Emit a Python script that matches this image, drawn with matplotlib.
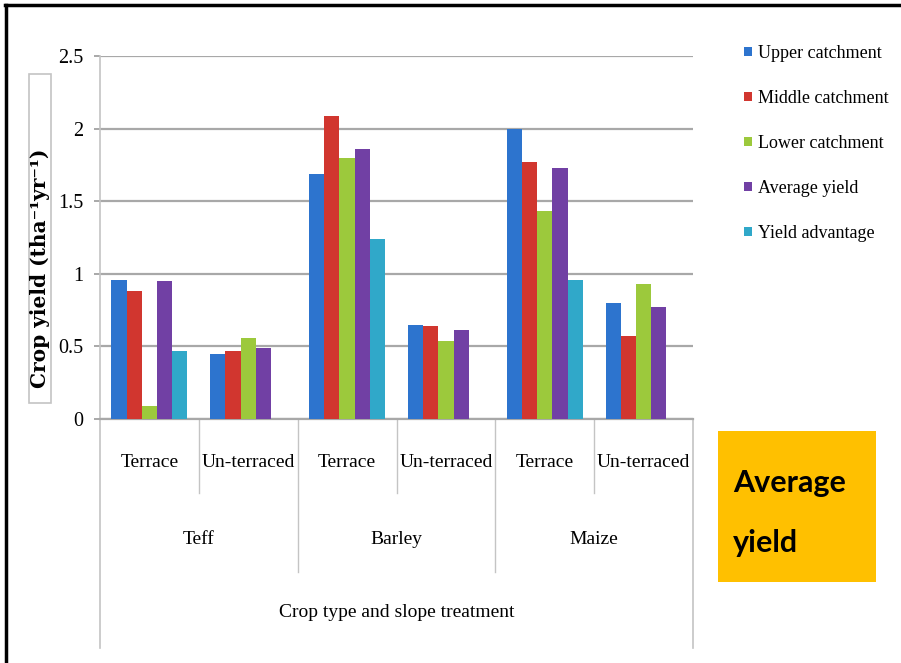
import numpy as np
import matplotlib.pyplot as plt
from matplotlib.lines import Line2D
from matplotlib.patches import Rectangle

plt.rcParams['font.family'] = ['Liberation Serif', 'DejaVu Serif']

# data
treatments = ["Terrace", "Un-terraced", "Terrace", "Un-terraced", "Terrace", "Un-terraced"]
crops = ["Teff", "Barley", "Maize"]
series_names = ["Upper catchment", "Middle catchment", "Lower catchment",
                "Average yield", "Yield advantage"]
upper = [0.96, 0.45, 1.69, 0.65, 2.00, 0.80]
middle = [0.88, 0.47, 2.09, 0.64, 1.77, 0.57]
lower = [0.09, 0.56, 1.80, 0.54, 1.43, 0.93]
average = [0.95, 0.49, 1.86, 0.61, 1.73, 0.77]
advantage = [0.47, np.nan, 1.24, np.nan, 0.96, np.nan]
yticks = [0, 0.5, 1, 1.5, 2, 2.5]
ytick_labels = ["0", "0.5", "1", "1.5", "2", "2.5"]

colors = ["#2D74CE", "#D1362F", "#9CC93C", "#7140A4", "#30A8C9"]
grid_c = "#A8A8A8"
line_c = "#C4C4C4"

W, H = 901, 663
fig = plt.figure(figsize=(W / 100, H / 100), dpi=100)

ax = fig.add_axes([100 / W, 1 - 419 / H, (693 - 100) / W, (419 - 56) / H])
x = np.arange(len(treatments))
bw = 0.154
series = [upper, middle, lower, average, advantage]
for i, (vals, name, c) in enumerate(zip(series, series_names, colors)):
    ax.bar(x + (i - 2) * bw, vals, bw, color=c, label=name, zorder=3)

ax.set_xlim(-0.5, 5.5)
ax.set_ylim(0, 2.5)
ax.set_yticks(yticks)
ax.set_yticklabels(ytick_labels)
ax.yaxis.grid(True, color=grid_c, lw=1.6)
ax.set_axisbelow(True)
ax.spines['top'].set_visible(False)
ax.spines['right'].set_visible(False)
ax.spines['bottom'].set_color(grid_c)
ax.spines['bottom'].set_linewidth(1.6)
ax.spines['left'].set_color(line_c)
ax.spines['left'].set_linewidth(1.2)
ax.tick_params(axis='x', bottom=False, labelbottom=False)
ax.tick_params(axis='y', length=4, color=grid_c, width=1.4, pad=8, labelsize=14.5)

# multi-level category axis below the plot
trans = ax.get_xaxis_transform()
for i, t in enumerate(treatments):
    ax.text(i, -0.121, t, transform=trans, ha='center', va='center', fontsize=14)
for j, c in enumerate(crops):
    ax.text(2 * j + 0.5, -0.333, c, transform=trans, ha='center', va='center', fontsize=14)
ax.text(2.5, -0.532, "Crop type and slope treatment", transform=trans,
        ha='center', va='center', fontsize=14)
for xv in [0.5, 2.5, 4.5]:
    ax.plot([xv, xv], [0, -0.204], transform=trans, clip_on=False, color=line_c, lw=1)
for xv in [1.5, 3.5]:
    ax.plot([xv, xv], [0, -0.421], transform=trans, clip_on=False, color=line_c, lw=1)
for xv in [-0.5, 5.5]:
    ax.plot([xv, xv], [0, -0.631], transform=trans, clip_on=False, color=line_c, lw=1.2)

# boxed y label
fig.add_artist(Rectangle((29 / W, 1 - 403 / H), 22 / W, 329 / H, transform=fig.transFigure,
                         facecolor='white', edgecolor=line_c, lw=1.2))
fig.text(40 / W, 1 - 268 / H, "Crop yield (tha\u207b\u00b9yr\u207b\u00b9)", rotation=90,
         ha='center', va='center', fontsize=14.5, fontweight='bold', family='DejaVu Serif')

fig.legend(loc='upper left', bbox_to_anchor=(744 / W, 1 - 45 / H), frameon=False,
           fontsize=13, handlelength=0.42, handleheight=0.42, handletextpad=0.35,
           labelspacing=1.55, borderpad=0, borderaxespad=0)

# orange note box
fig.add_artist(Rectangle((718 / W, 1 - 582 / H), 158 / W, 151 / H, transform=fig.transFigure,
                         facecolor='#FFC000', edgecolor='none'))
fig.text(733 / W, 1 - 492 / H, "Average", fontsize=22, fontweight='bold', family='Lato',
         ha='left', va='baseline')
fig.text(733 / W, 1 - 552 / H, "yield", fontsize=22, fontweight='bold', family='Lato',
         ha='left', va='baseline')

# black frame on top and left
fig.add_artist(Line2D([5 / W, 1], [1 - 5 / H, 1 - 5 / H], color='black', lw=2.5))
fig.add_artist(Line2D([6 / W, 6 / W], [0, 1 - 5 / H], color='black', lw=2.5))

fig.savefig("out.png", dpi=100)
